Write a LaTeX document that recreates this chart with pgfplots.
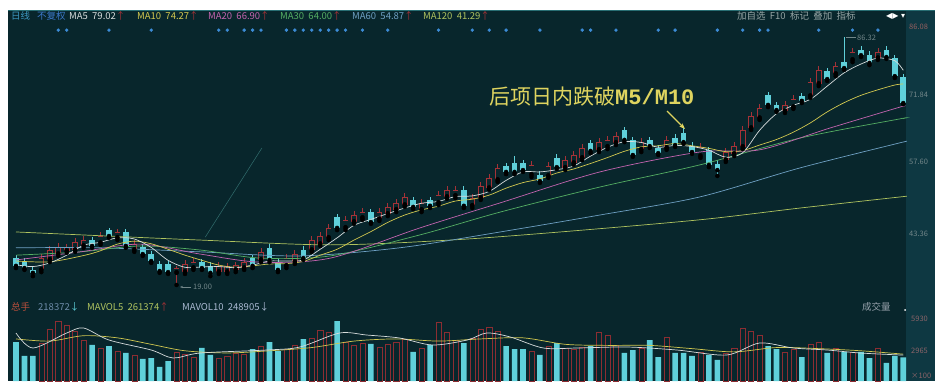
\documentclass[border=0pt]{standalone}
\usepackage{pgfplots}
\pgfplotsset{compat=1.18}
\usepackage{pgfplotstable}
\usetikzlibrary{arrows.meta}
\usepackage{fontspec}
\setmainfont{Noto Sans CJK SC}
\newfontfamily\monob{Liberation Mono}
\newfontfamily\dejavu{DejaVu Sans}
\definecolor{bg}{RGB}{8,38,44}
\definecolor{bgr}{RGB}{14,56,66}
\definecolor{cup}{RGB}{165,50,55}
\definecolor{vup}{RGB}{140,45,50}
\definecolor{cdn}{RGB}{95,208,218}
\definecolor{ma5}{RGB}{215,220,220}
\definecolor{ma10}{RGB}{210,200,80}
\definecolor{ma20}{RGB}{195,100,175}
\definecolor{ma30}{RGB}{85,175,100}
\definecolor{ma60}{RGB}{110,160,195}
\definecolor{ma120}{RGB}{175,195,95}
\definecolor{dotb}{RGB}{60,140,215}
\definecolor{gtx}{RGB}{115,135,138}
\definecolor{ann}{RGB}{222,212,95}
\definecolor{hd1}{RGB}{60,150,190}
\definecolor{hd2}{RGB}{60,120,200}
\definecolor{vz}{RGB}{190,80,60}
\definecolor{vt}{RGB}{110,140,170}
\definecolor{v10}{RGB}{170,185,210}

\pgfplotstableread{
i o h l c
3 23.1 27.4 22.5 26.3
4 25.8 29.6 25.2 28.5
5 27.4 30.4 26.9 29.3
6 28.2 30.1 27.7 29.3
7 28.5 31.8 28.0 30.7
8 29.6 32.3 29.1 31.2
10 30.4 33.4 29.9 32.3
12 31.8 34.2 31.2 33.4
14 28.5 31.2 28.0 30.1
19 22.3 24.2 19.0 23.6
20 22.5 25.8 22.0 24.7
21 23.6 26.3 23.1 25.2
24 22.5 25.2 22.0 24.2
25 22.5 25.0 22.0 24.2
26 23.1 25.2 22.5 24.4
27 23.6 26.3 23.1 25.2
29 25.8 29.1 25.2 28.0
32 24.2 27.4 23.6 26.3
33 25.2 28.5 24.7 27.4
35 28.5 32.3 28.0 31.2
36 30.1 33.4 29.6 32.3
37 31.8 35.6 31.2 34.5
39 34.5 37.7 33.9 36.7
40 36.1 39.1 35.6 38.0
41 37.2 39.9 36.7 38.8
43 36.9 39.9 36.4 38.8
44 38.3 41.3 37.7 40.2
45 39.4 42.4 38.8 41.3
46 40.7 44.0 40.2 42.9
48 39.4 42.4 38.8 41.3
50 41.3 44.5 40.7 43.4
51 42.9 45.9 42.4 44.8
52 43.2 45.9 42.6 44.8
54 40.5 43.7 39.9 42.6
55 42.6 47.0 42.1 45.9
56 45.3 49.1 44.8 48.1
57 47.5 51.9 47.0 50.8
61 48.9 52.7 48.3 51.6
63 48.6 52.4 48.1 51.3
65 50.8 54.0 50.2 52.9
66 52.1 55.4 51.6 54.3
67 53.5 57.3 52.9 56.2
69 55.7 58.9 55.1 57.8
70 56.5 59.5 55.9 58.4
71 57.6 60.5 57.0 59.5
74 55.7 58.9 55.1 57.8
77 56.2 59.5 55.7 58.4
81 54.0 57.6 53.5 56.5
84 52.9 56.2 52.4 55.1
85 54.6 57.8 54.0 56.7
86 56.5 62.2 55.9 61.1
87 61.6 66.0 61.1 64.9
88 64.3 68.1 63.8 67.1
91 66.2 69.0 65.7 67.9
92 67.3 70.6 66.8 69.5
94 70.3 75.2 69.8 74.1
95 73.6 78.5 73.0 77.4
97 76.3 79.5 75.7 78.5
99 80.1 83.4 79.5 82.3
102 80.6 83.4 80.1 82.3
}\uptab

\pgfplotstableread{
i o h l c
0 26.3 27.1 23.6 24.2
1 25.2 26.3 23.1 23.6
2 23.1 24.2 21.4 22.3
9 31.2 32.0 29.1 29.6
11 33.9 34.5 31.8 32.3
13 33.4 34.2 29.1 29.6
15 29.3 30.1 26.9 27.4
16 27.4 28.2 25.0 25.5
17 24.7 25.5 22.3 22.8
18 24.7 25.5 22.0 22.5
22 25.2 26.1 23.1 23.6
23 24.2 25.2 21.4 22.3
28 26.3 27.1 23.6 24.2
30 29.1 30.1 25.2 25.8
31 25.2 26.3 22.5 23.1
34 28.5 29.6 25.8 26.3
38 37.5 38.3 33.9 34.5
42 38.8 39.6 35.6 36.1
47 42.1 42.9 39.6 40.2
49 42.1 42.9 39.9 40.5
53 44.8 45.9 39.9 40.5
58 51.3 52.1 49.1 49.7
59 52.1 54.0 49.1 49.7
60 52.1 52.9 49.7 50.2
62 48.9 50.0 46.7 47.2
64 53.5 54.6 50.5 51.0
68 57.6 58.4 54.8 55.4
72 61.1 61.9 57.8 58.4
73 58.4 59.2 53.8 54.3
75 58.4 59.2 56.2 56.7
76 56.2 57.0 54.3 54.8
78 58.9 60.0 56.5 57.0
79 60.3 61.6 57.3 57.8
80 56.7 57.8 54.6 55.1
82 55.7 56.5 51.0 51.6
83 51.9 52.9 48.6 50.2
89 70.6 71.4 67.3 67.9
90 67.9 68.7 66.0 66.5
93 70.3 71.1 68.4 69.0
96 77.1 77.9 74.4 74.9
98 79.5 86.32 77.4 77.9
100 82.8 83.9 80.9 81.4
101 81.4 82.5 78.7 79.3
103 82.8 83.9 80.4 80.9
104 80.6 81.4 75.2 75.7
105 75.5 76.3 68.1 68.4
}\dntab

\pgfplotstableread{
i v
3 3500
4 4800
5 5500
6 5200
7 4600
8 3800
10 3000
12 2800
14 2400
19 2700
20 2500
21 2200
24 2100
25 2300
26 2600
27 2500
29 3200
32 2900
33 3300
35 4000
36 4700
37 4500
39 3600
40 3300
41 3500
43 3100
44 3400
45 3600
46 3900
48 3000
50 5470
51 4500
52 3800
54 4000
55 4800
56 5000
57 4600
61 2800
63 3200
65 3000
66 2900
67 3100
69 4500
70 4200
71 3300
74 3000
77 4100
81 2700
84 2600
85 3000
86 4900
87 4600
88 4200
91 2700
92 2900
94 3400
95 3600
97 3000
99 2700
102 3000
}\volup

\pgfplotstableread{
i v
0 3610
1 2320
2 2320
9 3340
11 3240
13 2600
15 2040
16 2130
17 1300
18 1850
22 3060
23 2410
28 2965
30 3610
31 2780
34 3890
38 5560
42 3430
47 2690
49 3340
53 3520
58 3240
59 2965
60 2965
62 2410
64 3520
68 3240
72 2600
73 2870
75 3800
76 2220
78 2600
79 2600
80 2320
82 2410
83 1950
89 3240
90 2965
93 2220
96 2600
98 2690
100 2690
101 2130
103 1670
104 2320
105 2184
}\voldn

\pgfplotsset{
  kx/.style={x=8.45pt, xmin=-0.5, xmax=105.5, hide axis, clip=false, anchor=south west},
  eb/.style={only marks, mark=none, forget plot,
    error bars/.cd, y dir=plus, y explicit, error mark=none,
    error bar style={#1}},
}

\begin{document}
\begin{tikzpicture}
\fill[white] (0pt,0pt) rectangle (935pt,381pt);
\fill[bg] (8pt,0pt) rectangle (935pt,371pt);
\fill[bgr] (906pt,0pt) rectangle (935pt,371pt);
\draw[color={rgb,255:red,40;green,110;blue,115}, line width=0.8pt] (8pt,370.6pt) -- (935pt,370.6pt);

% ---------- price panel ----------
\begin{axis}[kx, y=3.6832pt, ymin=15.47, ymax=90.41, at={(11.775pt,83pt)}]
\addplot[color={rgb,255:red,50;green,110;blue,110}, line width=0.5pt, forget plot] coordinates {(22.4,32.0) (29.1,56.2)};
% up candles (hollow red)
\addplot[eb={cup, line width=0.8pt}] table[x=i, y=l, y error plus expr=\thisrow{h}-\thisrow{l}] {\uptab};
\addplot[eb={cup, line width=5.6pt}] table[x=i, y=o, y error plus expr=\thisrow{c}-\thisrow{o}] {\uptab};
\addplot[eb={bg, line width=4.2pt}] table[x=i, y expr=\thisrow{o}+0.19, y error plus expr={max(\thisrow{c}-\thisrow{o}-0.38,0.001)}] {\uptab};
% down candles (filled cyan)
\addplot[eb={cdn, line width=0.9pt}] table[x=i, y=l, y error plus expr=\thisrow{h}-\thisrow{l}] {\dntab};
\addplot[eb={cdn, line width=5.6pt}] table[x=i, y=c, y error plus expr={max(\thisrow{o}-\thisrow{c},0.25)}] {\dntab};
% moving averages
\addplot[ma120, line width=0.7pt, smooth] coordinates {(0,33.4)(21.8,31.2)(37.2,29.9)(51.4,31.2)(64.4,33.4)(80.9,36.7)(92.8,39.9)(104.6,42.9)(105,43.0)};
\addplot[ma60, line width=0.7pt, smooth] coordinates {(0,29.1)(9.9,29.1)(21.8,28.0)(33.6,26.9)(45.4,29.1)(57.3,33.4)(69.1,38.0)(80.9,42.9)(92.8,50.8)(104.6,57.6)(105,57.8)};
\addplot[ma30, line width=0.7pt, smooth] coordinates {(0,27.1)(7.6,28.0)(14.7,29.6)(21.8,28.5)(28.9,26.3)(37.2,26.9)(47.8,32.6)(57.3,38.8)(69.1,45.6)(80.9,51.6)(92.8,58.9)(104.6,64.1)(105,64.2)};
\addplot[ma20, line width=0.7pt, smooth] coordinates {(0,25.8)(7.6,28.0)(14.7,30.1)(21.8,27.4)(28.9,25.2)(37.2,26.3)(47.8,34.5)(57.3,41.3)(69.1,49.7)(80.9,55.1)(88,55.7)(96.3,61.6)(104.6,67.3)(105,67.5)};
\addplot[ma10, line width=0.7pt, smooth] coordinates {(0,25.5)(4,25.3)(8,27.0)(10,28.3)(12,30.1)(14,30.9)(16,30.2)(18,28.7)(20,27.1)(22,25.7)(24,24.4)(26,23.8)(28,24.2)(30,24.7)(32,24.8)(34,25.4)(36,27.1)(38,28.7)(40,31.2)(42,33.5)(44,36.0)(46,38.0)(48,39.4)(50,40.4)(52,41.8)(54,42.3)(56,43.4)(58,45.3)(60,46.8)(62,47.8)(64,49.4)(66,50.5)(68,52.0)(70,53.6)(72,55.3)(74,56.5)(76,56.8)(78,57.4)(80,56.8)(82,56.1)(84,55.2)(86,55.5)(88,57.0)(90,58.5)(92,60.5)(94,63.0)(96,66.0)(98,68.5)(100,70.5)(102,72.0)(104,73.3)(105,73.6)};
\addplot[ma5, line width=0.7pt, smooth] coordinates {(0,24.5)(2,24.0)(4,25.0)(6,27.1)(8,29.8)(10,30.6)(12,31.8)(14,31.5)(16,29.2)(18,25.7)(20,23.8)(22,23.9)(24,24.0)(26,23.7)(28,24.4)(30,25.5)(32,25.5)(34,25.8)(36,28.7)(38,31.8)(40,35.2)(42,36.8)(44,38.4)(46,39.9)(48,41.2)(50,41.7)(52,43.0)(54,43.2)(56,44.4)(58,47.4)(60,49.7)(62,49.7)(64,50.3)(66,51.3)(68,54.0)(70,56.4)(72,57.9)(74,57.7)(76,56.4)(78,56.9)(80,56.6)(82,55.6)(84,53.7)(86,54.9)(88,61.0)(90,65.5)(92,67.8)(94,69.4)(96,73.0)(98,76.6)(100,79.0)(102,80.6)(104,79.9)(105,77.3)};
% info dots
\addplot[only marks, mark=*, mark size=1.5pt, dotb, forget plot] coordinates {(5,88.2)(6,88.2)(11,88.2)(16,88.2)(24,88.2)(25,88.2)(27,88.2)(28,88.2)(29,88.2)(32,88.2)(33,88.2)(34,88.2)(35,88.2)(36,88.2)(37,88.2)(38,88.2)(39,88.2)(41,88.2)(44,88.2)(50,88.2)(54,88.2)(56,88.2)(58,88.2)(62,88.2)(67,88.2)(68,88.2)(71,88.2)(76,88.2)(78,88.2)(83,88.2)(86,88.2)(88,88.2)(89,88.2)(95,88.2)(99,88.2)(102,88.2)};
\end{axis}

% ---------- volume panel ----------
\begin{axis}[kx, y=0.01079pt, ymin=0, ymax=7500, at={(11.775pt,0pt)}]
\addplot[ybar, bar width=5.6pt, bar shift=0pt, draw=none, fill=cdn] table[x=i, y=v] {\voldn};
\addplot[ybar, bar width=5.1pt, bar shift=0pt, draw=vup, fill=bg, line width=0.5pt] table[x=i, y=v] {\volup};
\addplot[ma10, line width=0.7pt, smooth] coordinates {(0,3900)(4,3700)(8,4200)(12,4000)(16,3400)(20,2800)(25,2600)(30,2800)(35,3100)(40,3700)(45,3900)(50,3700)(55,3900)(60,4000)(65,3400)(70,3300)(75,3300)(80,3000)(85,2700)(90,3100)(95,3000)(100,2800)(105,2489)};
\addplot[ma5, line width=0.7pt, smooth] coordinates {(0,4448)(2,3058)(6,4448)(8,4911)(11,3799)(16,2872)(18.6,2131)(21.8,2594)(29.7,2872)(33.6,3150)(38.3,4448)(41.5,4262)(45.4,3984)(49.3,3336)(53.4,3799)(55.7,4448)(58.5,4077)(62.4,3058)(66.4,3058)(72.3,3150)(78.2,2872)(84.1,2409)(88,3521)(92,3058)(96,2872)(99.9,2594)(105,2400)};
\end{axis}

% ---------- texts ----------
\begin{scope}[every node/.style={inner sep=0pt, anchor=base west}]
\def\hf{\fontsize{9.5}{10}\selectfont}
\node[font=\hf, text=hd1] at (11pt,361pt) {日线};
\node[font=\hf, text=hd2] at (37pt,361pt) {不复权};
\node[font=\hf] at (69pt,361pt) {\color{ma5}MA5\ \ 79.02\color{cup}↑};
\node[font=\hf] at (137pt,361pt) {\color{ma10}MA10\ \ 74.27\color{cup}↑};
\node[font=\hf] at (208pt,361pt) {\color{ma20}MA20\ \ 66.90\color{cup}↑};
\node[font=\hf] at (280pt,361pt) {\color{ma30}MA30\ \ 64.00\color{cup}↑};
\node[font=\hf] at (352pt,361pt) {\color{ma60}MA60\ \ 54.87\color{cup}↑};
\node[font=\hf] at (423pt,361pt) {\color{ma120}MA120\ \ 41.29\color{cup}↑};
\node[font=\hf, text={rgb,255:red,150;green,165;blue,165}] at (737pt,361pt) {加自选\ \ F10\ \ 标记\ \ 叠加\ \ 指标};
\node[font=\dejavu\fontsize{8}{9}\selectfont, text=white] at (886pt,362pt) {◀▶ ▾};
% volume header
\node[font=\hf, text=vz] at (11pt,71pt) {总手};
\node[font=\hf] at (38pt,71pt) {\color{vt}218372\color{cdn}↓};
\node[font=\hf] at (87pt,71pt) {\color{ma120}MAVOL5\ \ 261374\color{cup}↑};
\node[font=\hf] at (182pt,71pt) {\color{v10}MAVOL10\ \ 248905↓};
\node[font=\hf, text={rgb,255:red,150;green,160;blue,170}] at (862pt,71pt) {成交量};
% right axis labels
\def\rf{\fontsize{7.5}{8}\selectfont}
\node[font=\rf, text={rgb,255:red,150;green,95;blue,95}] at (909pt,351pt) {86.08};
\node[font=\rf, text=gtx] at (909pt,283pt) {71.84};
\node[font=\rf, text=gtx] at (909pt,216pt) {57.60};
\node[font=\rf, text=gtx] at (909pt,145pt) {43.36};
\node[font=\rf, text={rgb,255:red,140;green,100;blue,105}] at (911pt,60pt) {5930};
\node[font=\rf, text={rgb,255:red,140;green,100;blue,105}] at (911pt,28pt) {2965};
\node[font=\rf, text={rgb,255:red,140;green,100;blue,105}] at (911pt,3pt) {×100};
% high / low markers
\node[font=\rf, text=gtx] at (857pt,340.5pt) {86.32};
\node[font=\rf, text=gtx] at (193pt,91.5pt) {19.00};
% annotation
\node[text=ann] at (489pt,276pt) {\fontsize{21}{24}\selectfont 后项日内跌破{\monob\bfseries\fontsize{22}{24}\selectfont M5/M10}};
\end{scope}
\fill[white] (905pt,71pt) circle (1pt);
\draw[gtx, line width=0.5pt] (846pt,343.5pt) -- (856pt,343.5pt);
\draw[gtx, line width=0.5pt, -{Stealth[length=3pt]}] (191pt,94pt) -- (180pt,94pt);
\draw[ann, line width=1.1pt, -{Stealth[length=6pt]}] (667pt,270pt) -- (685pt,252pt);

\pgfresetboundingbox
\useasboundingbox (0pt,0pt) rectangle (935pt,381pt);
\end{tikzpicture}
\end{document}
